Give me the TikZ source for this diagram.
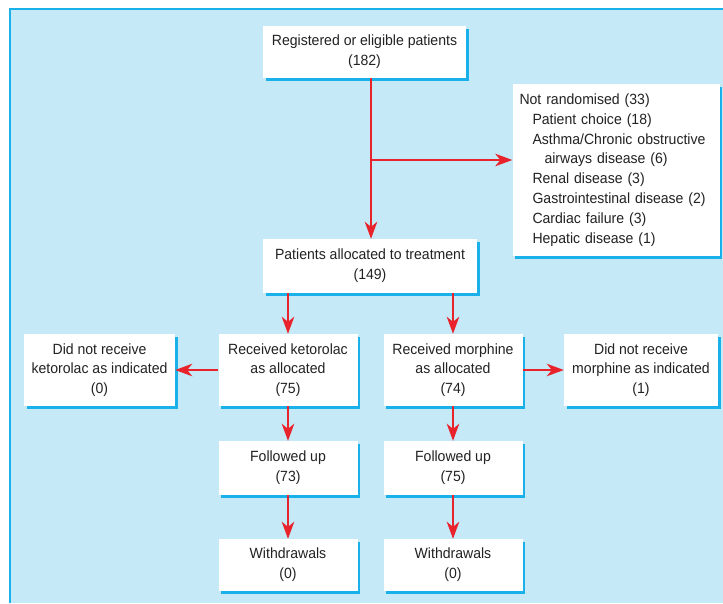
\documentclass[tikz,border=0pt]{standalone}
\usepackage{fontspec}
\setmainfont[FakeStretch=0.95]{Liberation Sans}
\usetikzlibrary{arrows.meta,shadows}
\definecolor{panel}{HTML}{C6E9F8}
\definecolor{edge}{HTML}{1AB0EA}
\definecolor{pfeil}{HTML}{E8232C}
\definecolor{ink}{HTML}{222222}
\begin{document}
\begin{tikzpicture}[x=1pt,y=-1pt,
    box/.style={fill=white,text=ink,align=center,inner sep=0pt,
      font=\fontsize{14.8}{19.8}\selectfont,
      drop shadow={shadow xshift=2.5pt,shadow yshift=-2.5pt,fill=edge,opacity=1}},
    arr/.style={draw=pfeil,line width=2pt,-{Stealth[length=17pt,width=12.5pt,inset=5pt]}}]
    \useasboundingbox (0,0) rectangle (723,603);
    \fill[panel] (10,9) rectangle (723,603);
    \draw[edge,line width=1.5pt] (10,603) -- (10,9) -- (723,9);
    \node[box,minimum width=203pt,minimum height=52pt] (reg) at (364.5,52) {Registered or eligible patients\\(182)};
    \node[box,minimum height=172pt,text width=193pt,inner xsep=7pt,align=left] (notr) at (616,170) {Not randomised (33)\\
        \hspace*{13pt}Patient choice (18)\\
        \hspace*{13pt}Asthma/Chronic obstructive\\
        \hspace*{25pt}airways disease (6)\\
        \hspace*{13pt}Renal disease (3)\\
        \hspace*{13pt}Gastrointestinal disease (2)\\
        \hspace*{13pt}Cardiac failure (3)\\
        \hspace*{13pt}Hepatic disease (1)};
    \node[box,minimum width=214pt,minimum height=54pt] (alloc) at (370,266) {Patients allocated to treatment\\(149)};
    \node[box,minimum width=151pt,minimum height=72pt] (notk) at (99.5,370) {Did not receive\\ketorolac as indicated\\(0)};
    \node[box,minimum width=139pt,minimum height=72pt] (reck) at (288,370) {Received ketorolac\\as allocated\\(75)};
    \node[box,minimum width=139pt,minimum height=72pt] (recm) at (453,370) {Received morphine\\as allocated\\(74)};
    \node[box,minimum width=154pt,minimum height=72pt] (notm) at (641,370) {Did not receive\\morphine as indicated\\(1)};
    \node[box,minimum width=139pt,minimum height=54pt] (folk) at (288,468) {Followed up\\(73)};
    \node[box,minimum width=139pt,minimum height=54pt] (folm) at (453,468) {Followed up\\(75)};
    \node[box,minimum width=139pt,minimum height=52pt] (witk) at (288,565) {Withdrawals\\(0)};
    \node[box,minimum width=139pt,minimum height=52pt] (witm) at (453,565) {Withdrawals\\(0)};
    \coordinate (split) at (371,160);
    \draw[arr] (reg.south -| split) -- (alloc.north -| split);
    \draw[arr] (split) -- (split -| notr.west);
    \draw[arr] (alloc.south -| reck.north) -- (reck.north);
    \draw[arr] (alloc.south -| recm.north) -- (recm.north);
    \draw[arr] (reck.west) -- (notk.east);
    \draw[arr] (recm.east) -- (notm.west);
    \draw[arr] (reck.south) -- (folk.north);
    \draw[arr] (recm.south) -- (folm.north);
    \draw[arr] (folk.south) -- (witk.north);
    \draw[arr] (folm.south) -- (witm.north);
\end{tikzpicture}
\end{document}
